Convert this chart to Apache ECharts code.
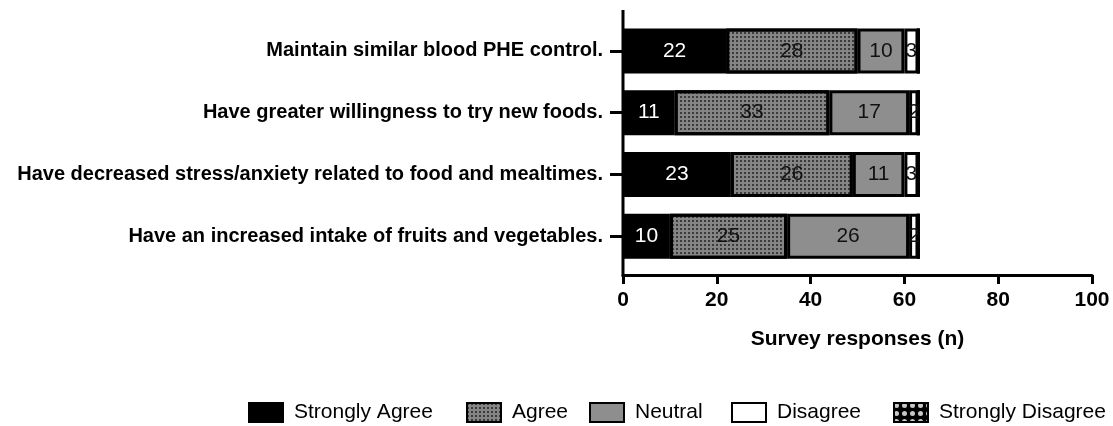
<!DOCTYPE html>
<html>
<head>
<meta charset="utf-8">
<script src="https://cdn.jsdelivr.net/npm/echarts@6/dist/echarts.min.js"></script>
<style>
  html, body { margin: 0; padding: 0; background: #fff; }
  #main { width: 1113px; height: 426px; }
</style>
</head>
<body>
<div id="main"></div>
<script>
// statements, top to bottom
const statements = [
  'Maintain similar blood PHE control.',
  'Have greater willingness to try new foods.',
  'Have decreased stress/anxiety related to food and mealtimes.',
  'Have an increased intake of fruits and vegetables.'
];
const stronglyAgree = [22, 11, 23, 10];
const agree = [28, 33, 26, 25];
const neutral = [10, 17, 11, 26];
const disagree = [3, 2, 3, 2];
const stronglyDisagree = [0, 0, 0, 0];
const xTicks = [0, 20, 40, 60, 80, 100];
const legendNames = ['Strongly Agree', 'Agree', 'Neutral', 'Disagree', 'Strongly Disagree'];

const font = '"Liberation Sans", Arial, sans-serif';

const chart = echarts.init(document.getElementById('main'), null, { renderer: 'canvas' });

function seg(name, data, color, labelColor, decal) {
  return {
    name: name,
    type: 'bar',
    stack: 'all',
    data: data,
    barWidth: 44,
    itemStyle: {
      color: color,
      borderColor: '#000',
      borderWidth: 3,
      decal: decal
    },
    label: {
      show: true,
      position: 'inside',
      color: labelColor,
      fontFamily: font,
      fontSize: 21,
      formatter: p => p.value > 0 ? p.value : ''
    },
    emphasis: { disabled: true }
  };
}

// Prism spaces the legend entries unevenly, so one legend per entry
const legendLeft = [248, 466, 589, 731, 893];
const legends = legendNames.map((n, i) => ({
  data: [n],
  left: legendLeft[i],
  top: 402,
  padding: 0,
  itemWidth: 34,
  itemHeight: 19,
  icon: 'rect',
  selectedMode: false,
  textStyle: { fontFamily: font, fontSize: 21, color: '#000', padding: [0, 0, 0, 6] }
}));

const option = {
  animation: false,
  grid: { left: 623, right: 21, top: 20, bottom: 159, containLabel: false },
  legend: legends,
  xAxis: {
    type: 'value',
    min: xTicks[0],
    max: xTicks[xTicks.length - 1],
    interval: 20,
    offset: 8,
    splitLine: { show: false },
    axisLine: { show: true, lineStyle: { color: '#000', width: 3 } },
    axisTick: { show: true, length: 9, lineStyle: { color: '#000', width: 3 } },
    axisLabel: { color: '#000', fontFamily: font, fontWeight: 'bold', fontSize: 21, margin: 15 },
    name: 'Survey responses (n)',
    nameLocation: 'middle',
    nameGap: 54,
    nameTextStyle: { color: '#000', fontFamily: font, fontWeight: 'bold', fontSize: 21, verticalAlign: 'top' }
  },
  yAxis: {
    type: 'category',
    inverse: true,
    data: statements,
    axisLine: { show: false },
    axisTick: { show: true, alignWithLabel: true, length: 13, lineStyle: { color: '#000', width: 3 } },
    axisLabel: { color: '#000', fontFamily: font, fontWeight: 'bold', fontSize: 20, margin: 20 }
  },
  series: [
    seg('Strongly Agree', stronglyAgree, '#000', '#fff'),
    seg('Agree', agree, '#858585', '#111', {
      symbol: 'rect', symbolSize: 1, color: 'rgba(25,25,25,0.7)',
      dashArrayX: [[2, 2]], dashArrayY: [2, 2]
    }),
    seg('Neutral', neutral, '#8e8e8e', '#111'),
    seg('Disagree', disagree, '#fff', '#111'),
    seg('Strongly Disagree', stronglyDisagree, '#000', '#111', {
      symbol: 'circle', symbolSize: 1, color: '#c8c8c8',
      dashArrayX: [[5, 3]], dashArrayY: [5, 3]
    })
  ]
};
option.series.forEach(s => { s.barWidth = 45; });

chart.setOption(option);

// Prism-style y axis line that runs a bit past the bars at both ends
const x0 = chart.convertToPixel({ xAxisIndex: 0 }, 0);
const axisY = 426 - option.grid.bottom + option.xAxis.offset;
chart.setOption({
  graphic: [{
    type: 'line',
    shape: { x1: x0, y1: 10, x2: x0, y2: axisY + 1.5 },
    style: { stroke: '#000', lineWidth: 3 },
    silent: true
  }]
});
</script>
</body>
</html>
